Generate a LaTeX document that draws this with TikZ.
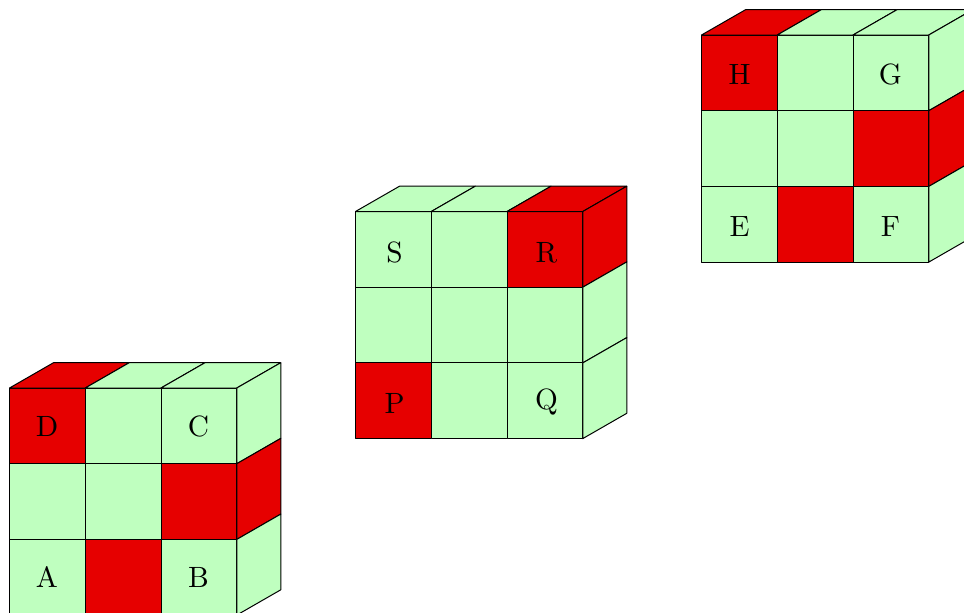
\documentclass[tikz,border=0pt]{standalone}
\definecolor{lg}{RGB}{191,255,191}
\definecolor{rd}{RGB}{230,0,0}
\tikzset{
  cellstyle/.style={draw=black,line width=0.75pt,line join=round},
  lab/.style={font=\normalsize,inner sep=0pt,text=black,scale=2.2,transform shape}
}
\newcommand{\cube}[6]{%
  \begin{scope}[shift={(#1,#2)}]
    \foreach \c [count=\i from 0] in {#3}{
      \pgfmathsetmacro\cx{int(mod(\i,3))}
      \pgfmathsetmacro\cy{int(floor(\i/3))}
      \fill[\c] (\cx*75.75,\cy*75.7) rectangle ++(75.75,75.7);
      \draw[cellstyle] (\cx*75.75,\cy*75.7) rectangle ++(75.75,75.7);
    }
    \foreach \c [count=\i from 0] in {#4}{
      \path[cellstyle,fill=\c] (\i*75.75,0) -- ++(44,-25.3) -- ++(75.75,0) -- ++(-44,25.3) -- cycle;
    }
    \foreach \c [count=\i from 0] in {#5}{
      \path[cellstyle,fill=\c] (227.25,\i*75.7) -- ++(44,-25.3) -- ++(0,75.7) -- ++(-44,25.3) -- cycle;
    }
  \end{scope}
}
\begin{document}
\begin{tikzpicture}[x=0.75pt,y=-0.75pt]
\useasboundingbox (0,0) rectangle (964,612);
\clip (0,0) rectangle (964,612);
\fill[white] (0,0) rectangle (964,612);
\cube{9.5}{388}{rd,lg,lg,lg,lg,rd,lg,rd,lg}{rd,lg,lg}{lg,rd,lg}{}
\cube{355.5}{211.5}{lg,lg,rd,lg,lg,lg,rd,lg,lg}{lg,lg,rd}{rd,lg,lg}{}
\cube{701.5}{35}{rd,lg,lg,lg,lg,rd,lg,rd,lg}{rd,lg,lg}{lg,rd,lg}{}
\node[lab] (D) at (47,426) {D};
\node[lab] (C) at (198.5,426) {C};
\node[lab] (A) at (47,577) {A};
\node[lab] (B) at (198.5,577) {B};
\node[lab] (S) at (394.5,252.5) {S};
\node[lab] (R) at (546.5,252.5) {R};
\node[lab] (P) at (394.5,403) {P};
\node[lab] (Q) at (546.5,402) {Q};
\node[lab] (H) at (739.5,74) {H};
\node[lab] (G) at (890.5,74) {G};
\node[lab] (E) at (739.5,227) {E};
\node[lab] (F) at (890.5,227) {F};
\end{tikzpicture}
\end{document}
